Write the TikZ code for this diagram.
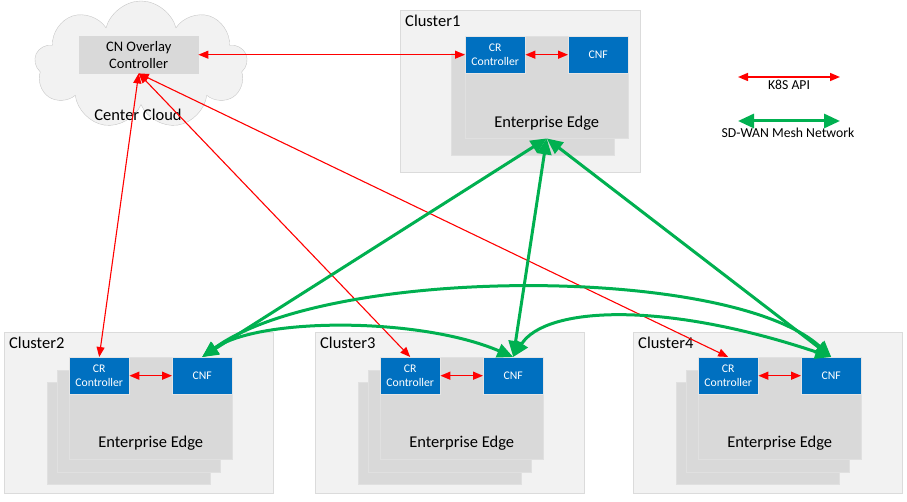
\documentclass[tikz,border=0pt]{standalone}
\usepackage{fontspec}
\setmainfont{Carlito}
\usetikzlibrary{shapes.symbols,arrows.meta,positioning}
\definecolor{boxblue}{HTML}{0070C0}
\definecolor{apired}{HTML}{FF0000}
\definecolor{meshgreen}{HTML}{00B050}

\begin{document}
\begin{tikzpicture}[x=1pt,y=-1pt]
\tikzstyle{mycluster} = [draw=black!14, fill=black!5, anchor=north west, inner sep=0pt]
\tikzstyle{mylabel} = [anchor=north west, inner sep=5pt, font=\fontsize{16.5}{18}\selectfont]
\tikzstyle{mylayer} = [draw=black!12, fill=black!15, anchor=north west, minimum width=163, minimum height=102, inner sep=0pt]
\tikzstyle{myblue} = [draw=black!10, fill=boxblue, text=white, minimum width=60, minimum height=37, inner sep=0pt, align=center, font=\fontsize{11.7}{14.5}\selectfont]
\tikzstyle{myedge} = [font=\fontsize{16.5}{18}\selectfont]
\tikzset{api/.style={draw=apired, line width=1.1pt, {Triangle[length=10pt,width=8pt]}-{Triangle[length=10pt,width=8pt]}},
 mesh/.style={draw=meshgreen, line width=3pt, {Triangle[length=16pt,width=14pt]}-{Triangle[length=16pt,width=14pt]}}}
\useasboundingbox (0,0) rectangle (907,502);

% center cloud
\node [cloud, cloud puffs=9, cloud ignores aspect, draw=black!22, fill=black!5, minimum width=213, minimum height=128] (cloud) at (141,65) {};
\node [draw=black!15, fill=black!15, anchor=north west, minimum width=119, minimum height=37, inner sep=0pt, align=center, font=\fontsize{14.5}{17}\selectfont] (ctrl) at (79,36) {CN Overlay\\Controller};
\node [myedge] (cc) at (138,115) {Center Cloud};

% cluster1
\node [mycluster, minimum width=240, minimum height=162] (cl1) at (400,10) {};
\node [mylabel] (lab1) at (cl1.north west) {Cluster1};
\node [mylayer] (bk1) at (451,53) {};
\node [mylayer] (ee1) at (465,36) {};
\node [myblue, anchor=north west] (cr1) at (ee1.north west) {CR\\Controller};
\node [myblue, anchor=north east] (cnf1) at (ee1.north east) {CNF};
\node [myedge] (txt1) at ([yshift=-87pt]ee1.north) {Enterprise Edge};

% cluster2..4
\foreach \n/\x in {2/4,3/315,4/633} {
  \node [mycluster, minimum width=269, minimum height=161] (cl\n) at (\x,332) {};
  \node [mylabel] (lab\n) at (cl\n.north west) {Cluster\n};
  \node [mylayer] (bk\n) at (\x+43,382) {};
  \node [mylayer] (md\n) at (\x+53,370) {};
  \node [mylayer] (ee\n) at (\x+65,357) {};
  \node [myblue, anchor=north west] (cr\n) at (ee\n.north west) {CR\\Controller};
  \node [myblue, anchor=north east] (cnf\n) at (ee\n.north east) {CNF};
  \node [myedge] (txt\n) at ([yshift=-86pt]ee\n.north) {Enterprise Edge};
}

% legend
\coordinate (k1) at (738,77);
\coordinate (k2) at (840,77);
\node [font=\fontsize{13.7}{16}\selectfont] (ktxt) at (789,85) {K8S API};
\coordinate (m1) at (738,121);
\coordinate (m2) at (840,121);
\node [font=\fontsize{13.7}{16}\selectfont] (mtxt) at (788,133) {SD-WAN Mesh Network};
\draw [api, line width=1.5pt] (k1) -- (k2);
\draw [mesh] (m1) -- (m2);

% k8s api
\draw [api] (ctrl.east) -- (cr1.west);
\foreach \n in {2,3,4} \draw [api] (ctrl.south) -- (cr\n.north);
\foreach \n in {1,2,3,4} \draw [api, line width=1.5pt] (cr\n.east) -- (cnf\n.west);

% sd-wan mesh
\foreach \n in {2,3,4} \draw [mesh] (ee1.south) -- (cnf\n.north);
\draw [mesh] (cnf2.north) .. controls +(57,-40) and +(-93,-40) .. (cnf3.north);
\draw [mesh] (cnf2.north) .. controls +(127,-92) and +(-100,-92) .. (cnf4.north);
\draw [mesh] (cnf3.north) .. controls +(32,-50) and +(-170,-57) .. (cnf4.north);
\end{tikzpicture}
\end{document}
